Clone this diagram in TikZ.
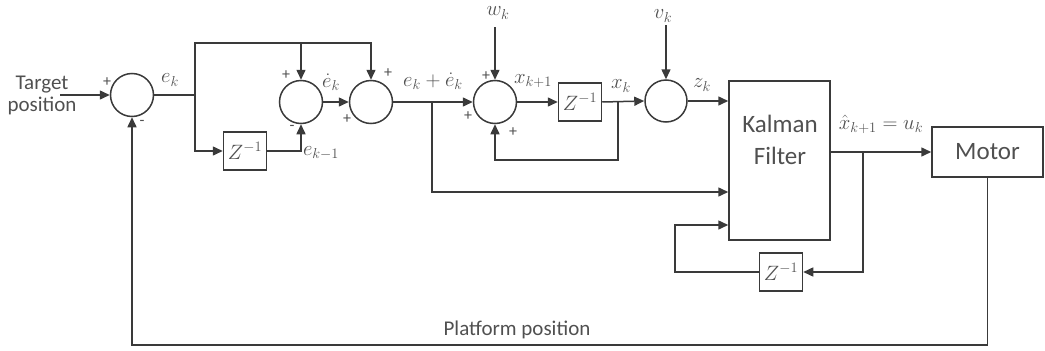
\documentclass[tikz,border=0pt]{standalone}
\usepackage{fontspec}
\setmainfont{Carlito}
\usetikzlibrary{arrows.meta,calc}
\definecolor{ln}{HTML}{3A3A3A}
\definecolor{tx}{HTML}{505050}
\begin{document}
\begin{tikzpicture}[x=1pt,y=-1pt,
  line width=1.5pt,
  wire/.style={draw=ln,line width=1.5pt},
  arr/.style={wire,-{Triangle[length=10pt,width=9pt]}},
  sumnode/.style={circle,draw=ln,line width=1.5pt,minimum size=43pt,inner sep=0pt},
  zbox/.style={draw=ln,line width=1.5pt,minimum width=43pt,minimum height=38pt,inner sep=0pt,font=\fontsize{21}{24}\selectfont,text=tx},
  bigbox/.style={draw=ln,line width=1.5pt,inner sep=0pt,font=\fontsize{25}{34}\selectfont,text=tx,align=center},
  bigtxt/.style={inner sep=0pt,font=\fontsize{25}{34}\selectfont,text=tx,align=center},
  lbl/.style={text=tx,font=\fontsize{20}{24}\selectfont,inner sep=0pt},
  txt/.style={text=tx,font=\fontsize{21}{22}\selectfont,inner sep=0pt,align=center},
  sgn/.style={text=tx,font=\fontsize{16}{16}\selectfont,inner sep=0pt}
]
\useasboundingbox (0,0) rectangle (1045,351);

% nodes
\node[txt] (tgt) at (42,95) {Target\\position};
\node[sumnode] (s1) at (132,95) {};
\node[sumnode] (s2) at (301,102) {};
\node[sumnode] (s3) at (371,102) {};
\node[sumnode] (s4) at (495,102) {};
\node[sumnode,minimum size=42pt] (s5) at (666,101) {};
\node[zbox] (z1) at (245,151) {$Z^{-1}$};
\node[zbox] (z2) at (580,102) {$Z^{-1}$};
\node[zbox] (z3) at (781,272) {$Z^{-1}$};
\node[bigbox,minimum width=101pt,minimum height=159pt] (kf) at (779.5,160.5) {};
\node[bigtxt] (kft) at (780,140) {Kalman\\[-2pt]Filter};
\node[bigbox,minimum width=111pt,minimum height=50pt] (mot) at (987.5,152) {Motor};

% helper coordinates
\coordinate (in) at (60,95);
\coordinate (b1) at (195,95);
\coordinate (top) at (0,43);
\coordinate (b2) at (432,102);
\coordinate (k2) at (0,192);
\coordinate (wk) at (495,27);
\coordinate (b3) at (618,102);
\coordinate (fb) at (0,160);
\coordinate (vk) at (666,25);
\coordinate (b4) at (863,152);
\coordinate (c3) at (675,225);
\coordinate (bot) at (0,345);

% connectors
\draw[arr] (in) -- (s1.west);
\draw[wire] (s1.east) -- (b1);
\draw[arr] (b1) |- (s3.north |- top) -- (s3.north);
\draw[arr] (s2.north |- top) -- (s2.north);
\draw[arr] (b1) |- (z1.west);
\draw[arr] (z1.east) -| (s2.south);
\draw[arr] (s2.east) -- (s3.west);
\draw[arr] (s3.east) -- (s4.west);
\draw[arr] (b2) |- (kf.west |- k2);
\draw[arr] (wk) -- (s4.north);
\draw[arr] (s4.east) -- (z2.west);
\draw[arr] (z2.east) -- (s5.west);
\draw[arr] (b3) |- (s4.south |- fb) -- (s4.south);
\draw[arr] (vk) -- (s5.north);
\draw[arr] (s5.east) -- (s5.east -| kf.west);
\draw[arr] (mot.west -| kf.east) -- (mot.west);
\draw[arr] (b4) |- (z3.east);
\draw[arr] (z3.west) -| (c3) -- (c3 -| kf.west);
\draw[arr] (mot.south) |- (s1.south |- bot) -- (s1.south);

% signs
\node[sgn] (p1) at (107,82) {+};
\node[sgn] (m1) at (142,123) {-};
\node[sgn] (p2) at (286,75) {+};
\node[sgn] (m2) at (292,128) {-};
\node[sgn] (p3a) at (388,73) {+};
\node[sgn] (p3b) at (347,119) {+};
\node[sgn] (p4a) at (486,76) {+};
\node[sgn] (p4b) at (468,116) {+};
\node[sgn] (p4c) at (513,132) {+};

% labels
\node[lbl] (lek) at (170,80) {$e_k$};
\node[lbl] (ledot) at (331,82) {$\dot e_k$};
\node[lbl] (lekm) at (321,153) {$e_{k-1}$};
\node[lbl] (lsum) at (433,81) {$e_k+\dot e_k$};
\node[lbl] (lw) at (498,13) {$w_k$};
\node[lbl] (lx1) at (533,81) {$x_{k+1}$};
\node[lbl] (lx) at (621,86) {$x_k$};
\node[lbl] (lv) at (663,16) {$v_k$};
\node[lbl] (lz) at (702,85) {$z_k$};
\node[lbl] (lu) at (881,124) {$\hat x_{k+1}=u_k$};
\node[txt] (lpp) at (517,330) {Platform position};
\end{tikzpicture}
\end{document}
